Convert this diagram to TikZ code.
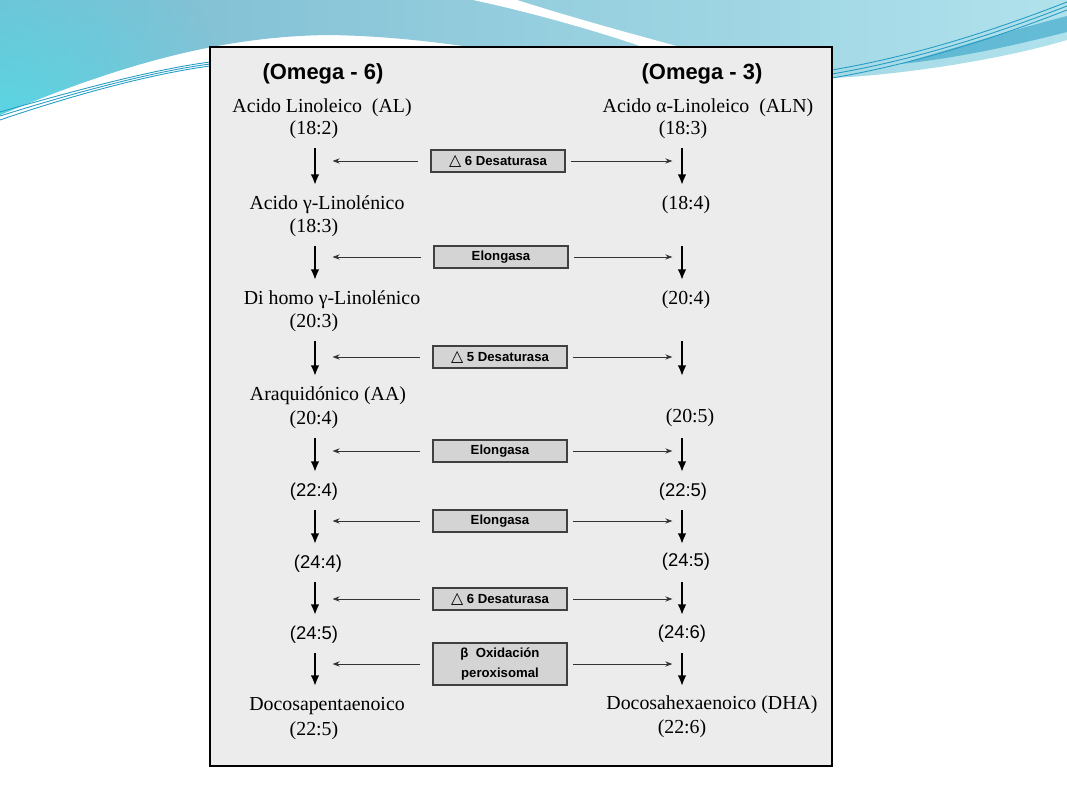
\documentclass[tikz,border=0pt]{standalone}
\usepackage{fontspec}
\setmainfont{Liberation Serif}
\setsansfont{Liberation Sans}
\newfontfamily\trifont{DejaVu Sans}
\usetikzlibrary{positioning, arrows.meta, fadings}
\definecolor{panelgray}{RGB}{236,236,236}
\definecolor{enzgray}{RGB}{212,212,212}
\definecolor{slideblue}{RGB}{122,186,208}
\definecolor{slidecyan}{RGB}{88,216,228}
\definecolor{slidelight}{RGB}{176,226,236}
\definecolor{slideteal}{RGB}{38,156,196}
\tikzfading[name=glow, inner color=transparent!0, outer color=transparent!100]
\tikzset{
	compound/.style={
		inner sep=0pt,
		text height=8pt,
		text depth=2.5pt,
		font={\fontsize{11.3}{13}\selectfont}
	},
	sansnum/.style={
		compound,
		font={\sffamily\fontsize{10.5}{12}\selectfont}
	},
	omega/.style={
		inner sep=0pt,
		font={\sffamily\bfseries\fontsize{12.5}{14}\selectfont}
	},
	enzyme/.style={
		draw=black!75,
		fill=enzgray,
		line width=0.7pt,
		align=center,
		inner sep=0pt,
		minimum width=2.68cm,
		minimum height=0.44cm,
		font={\sffamily\bfseries\fontsize{7.5}{9}\selectfont}
	},
	flow/.style={
		-{Latex[length=6pt,width=5pt]},
		line width=1.1pt,
		shorten <=5pt,
		shorten >=6pt
	},
	side/.style={
		-{Stealth[length=4pt,width=3pt]},
		line width=0.5pt,
		draw=black!80
	},
	panel/.style={
		draw=black,
		fill=panelgray,
		line width=1.6pt
	}
}
\newcommand{\tri}{{\trifont\fontsize{9}{9}\selectfont △}}

\begin{document}
\begin{tikzpicture}[x=0.02cm, y=-0.02cm]
		\useasboundingbox (0,0) rectangle (1067,800);
		
		% slide decoration
		\begin{scope}
			\clip (0,0) -- (1067,0) -- (1067,40) .. controls (1000,60) and (900,75) .. (832,78) -- (832,47) -- (470,47) .. controls (420,40) and (380,36) .. (330,35) .. controls (230,36) and (130,60) .. (0,115) -- cycle;
			\shade[left color=slideblue, right color=slidelight] (0,0) rectangle (1067,120);
			\fill[slidecyan, path fading=glow] (0,140) circle (240);
		\end{scope}
		\fill[white] (473,0) -- (517,0) .. controls (580,20) and (640,36) .. (680,47) -- (643,47) .. controls (600,32) and (530,12) .. (473,0) -- cycle;
		\fill[slideteal, opacity=0.55] (900,64) .. controls (960,46) and (1020,28) .. (1067,16) -- (1067,32) .. controls (1020,44) and (960,58) .. (900,64) -- cycle;
		\foreach \d in {0,4,8}{
			\draw[slideteal, line width=0.5pt] (0,112+\d) .. controls (70,92+\d/2) and (150,70+\d/2) .. (210,62+\d/2);
			\draw[slideteal, line width=0.5pt] (832,70+\d) .. controls (920,55+\d) and (1000,28+\d) .. (1067,2+\d);
		};
		
		\draw[panel] (210,47) rectangle (832,766);
		
		\coordinate (colL) at (315,0);
		\coordinate (colR) at (682,0);
		
		\node(om6)[omega] at (323,74) {(Omega - 6)};
		\node(om3)[omega] at (702,74) {(Omega - 3)};
		
		% omega 6
		\node(nL1)[compound] at (322,108) {Acido Linoleico~~(AL)};
		\node(numL1)[compound] at (314,130) {(18:2)};
		\node(nL2)[compound] at (327,205) {Acido γ-Linolénico};
		\node(numL2)[compound] at (314,228) {(18:3)};
		\node(nL3)[compound] at (332,300) {Di homo γ-Linolénico};
		\node(numL3)[compound] at (314,323) {(20:3)};
		\node(nL4)[compound] at (328,396) {Araquidónico (AA)};
		\node(numL4)[compound] at (314,420) {(20:4)};
		\node(numL5)[sansnum] at (314,492) {(22:4)};
		\node(numL6)[sansnum] at (318,564) {(24:4)};
		\node(numL7)[sansnum] at (314,635) {(24:5)};
		\node(nL8)[compound] at (327,706) {Docosapentaenoico};
		\node(numL8)[compound] at (314,731) {(22:5)};
		
		% omega 3
		\node(nR1)[compound] at (708,108) {Acido α-Linoleico~~(ALN)};
		\node(numR1)[compound] at (683,130) {(18:3)};
		\node(numR2)[compound] at (686,205) {(18:4)};
		\node(numR3)[compound] at (686,300) {(20:4)};
		\node(numR4)[compound] at (690,418) {(20:5)};
		\node(numR5)[sansnum] at (683,492) {(22:5)};
		\node(numR6)[sansnum] at (686,562) {(24:5)};
		\node(numR7)[sansnum] at (682,634) {(24:6)};
		\node(nR8)[compound] at (712,705) {Docosahexaenoico (DHA)};
		\node(numR8)[compound] at (682,729) {(22:6)};
		
		% enzymes
		\node(e1)[enzyme] at (498,161) {\tri{} 6 Desaturasa};
		\node(e2)[enzyme] at (501,257) {Elongasa};
		\node(e3)[enzyme] at (500,357) {\tri{} 5 Desaturasa};
		\node(e4)[enzyme] at (500,451) {Elongasa};
		\node(e5)[enzyme] at (500,521) {Elongasa};
		\node(e6)[enzyme] at (500,599) {\tri{} 6 Desaturasa};
		\node(e7)[enzyme, minimum height=0.84cm, font={\sffamily\bfseries\fontsize{7.5}{11}\selectfont}] at (500,664) {β~~Oxidación\\peroxisomal};
		
		\foreach \a/\b in {numL1/nL2, numL2/nL3, numL3/nL4, numL4/numL5, numL5/numL6, numL6/numL7, numL7/nL8}{
			\draw[flow] (colL |- \a.south) -- (colL |- \b.north);
			\draw[flow] (colR |- \a.south) -- (colR |- \b.north);
		};
		\foreach \e in {e1, e2, e3, e4, e5, e6, e7}{
			\draw[side, shorten <=7pt, shorten >=10pt] (\e.west) -- (colL |- \e.west);
			\draw[side, shorten <=3pt, shorten >=5.5pt] (\e.east) -- (colR |- \e.east);
		};
\end{tikzpicture}
\end{document}
